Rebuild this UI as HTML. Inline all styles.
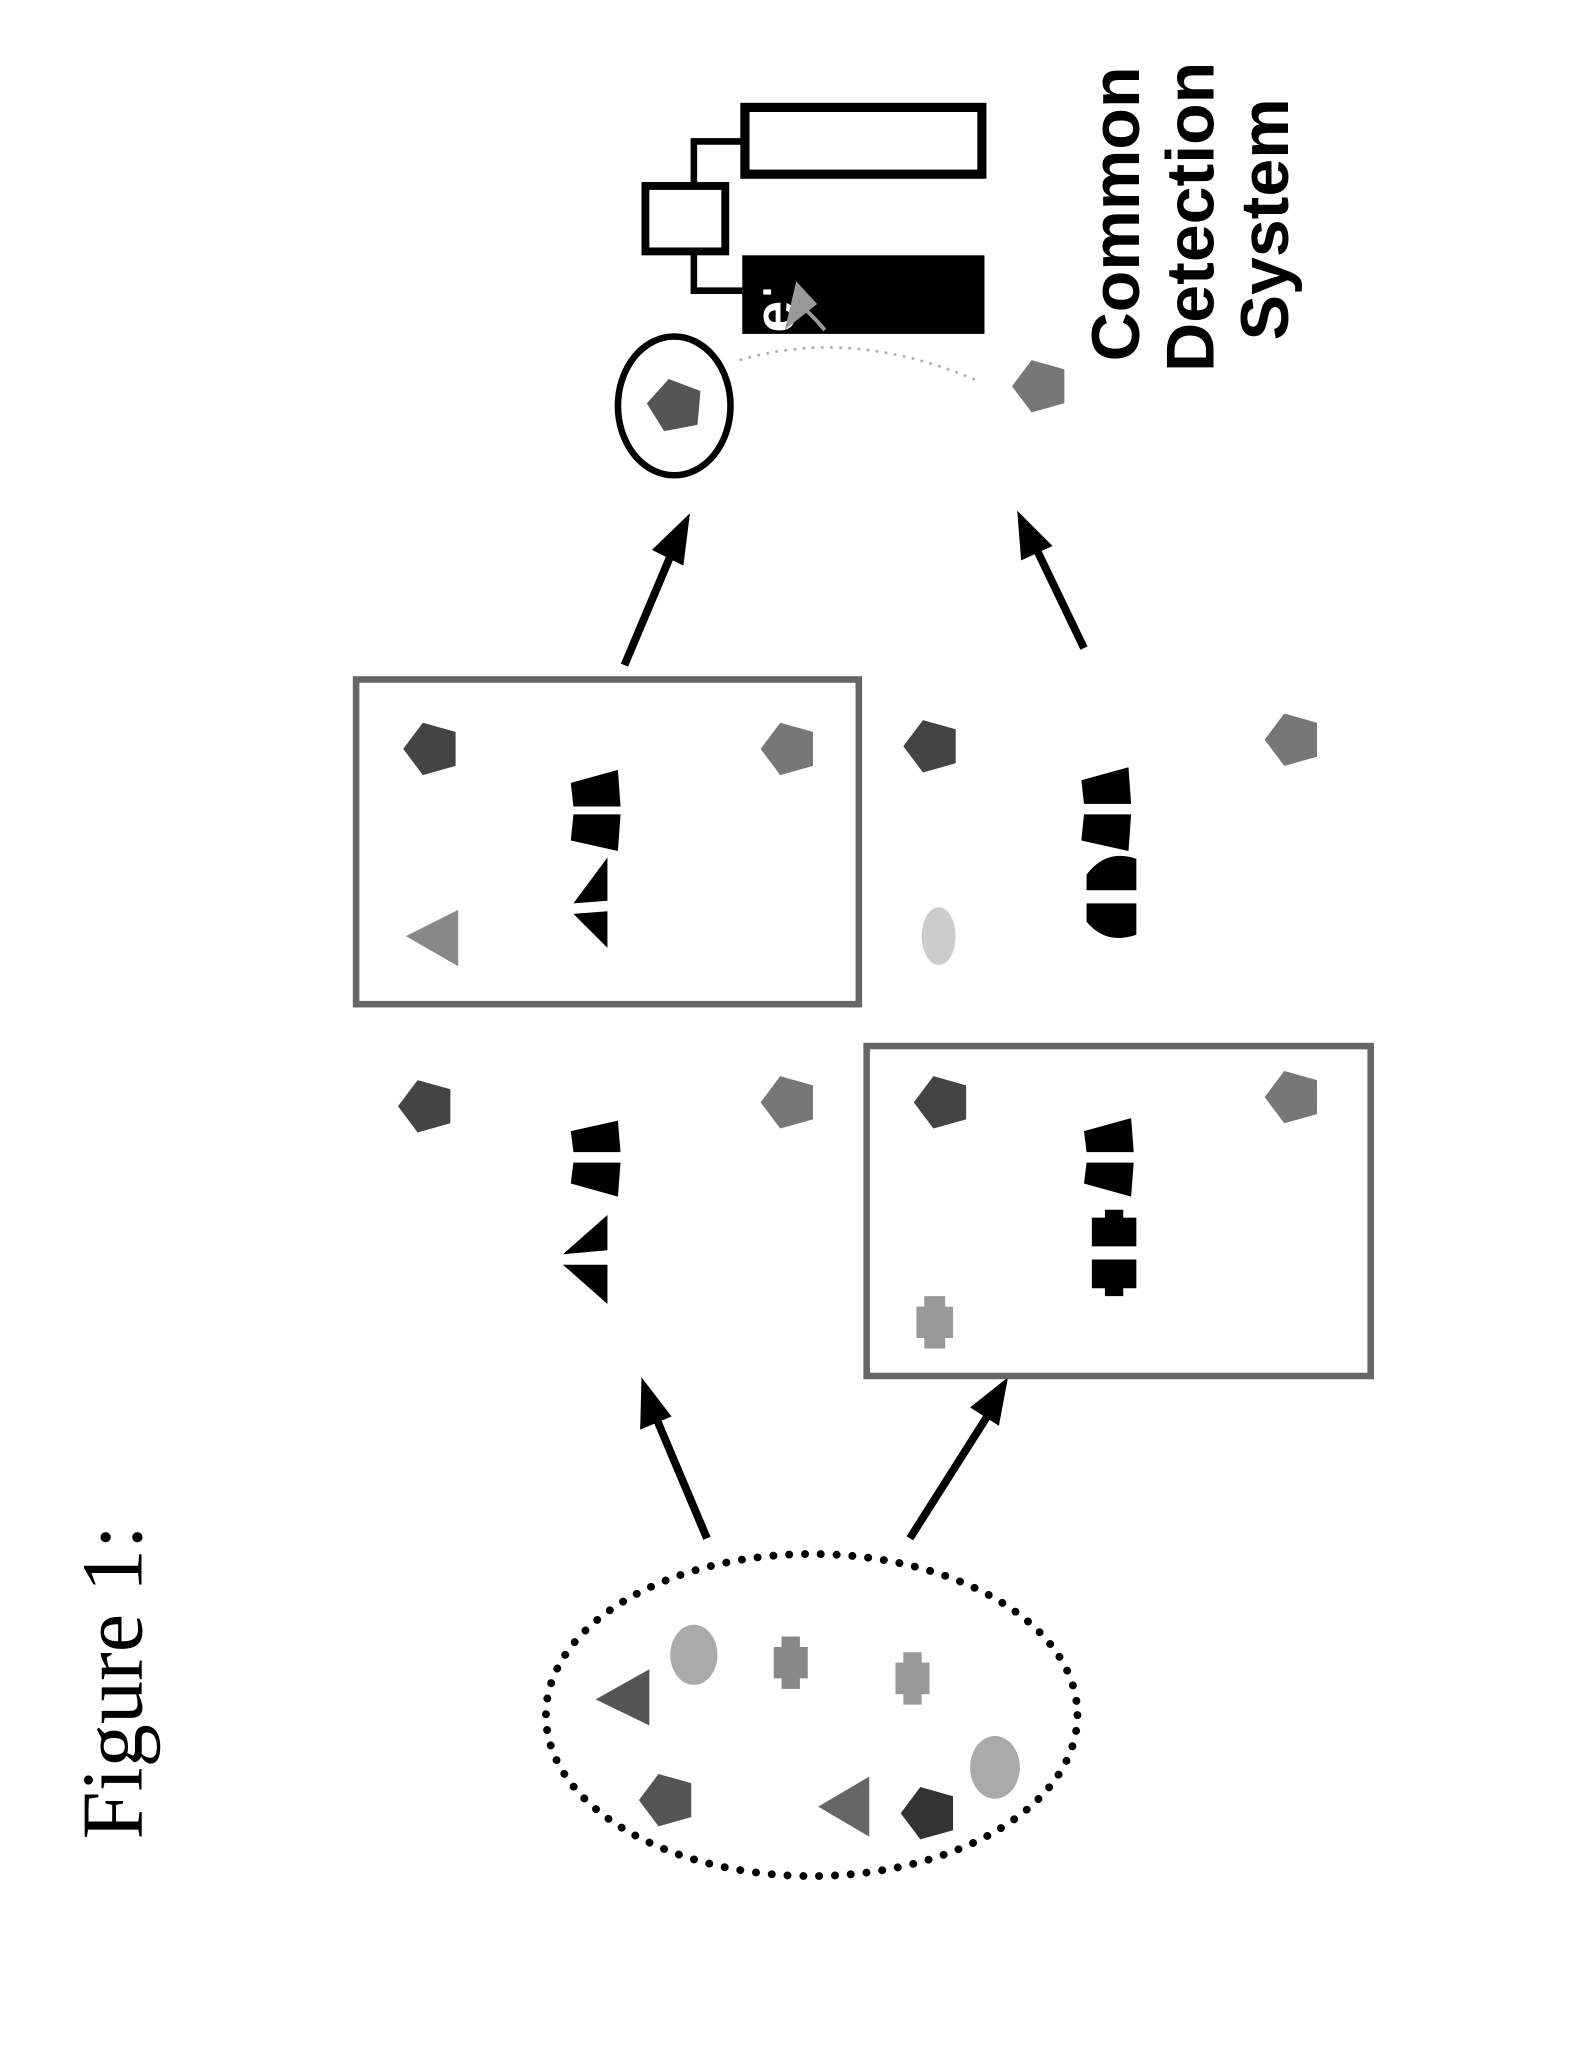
<!DOCTYPE html>
<html><head><style>html,body{margin:0;padding:0;background:#fff;width:1588px;height:2045px;overflow:hidden}</style></head>
<body>
<svg width="1588" height="2045" viewBox="0 0 1213 1562" xmlns="http://www.w3.org/2000/svg">
<defs>
<polygon id="pent" points="-22,0 -7,-20 18,-13 18,13 -7,20"/>
</defs>
<!-- Figure label -->
<text transform="translate(108,1405) rotate(-90)" font-family="Liberation Serif, serif" font-size="66">Figure 1:</text>
<!-- Common Detection System -->
<g font-family="Liberation Sans, sans-serif" font-weight="bold" font-size="52" transform="rotate(-90)">
<text x="-276" y="870">Common</text>
<text x="-284" y="927">Detection</text>
<text x="-260" y="984">System</text>
</g>
<!-- detector -->
<rect x="569" y="82" width="181" height="51" fill="none" stroke="#000" stroke-width="7"/>
<rect x="567" y="195" width="185" height="60" fill="#000"/>
<rect x="493" y="142" width="61" height="50" fill="none" stroke="#000" stroke-width="6"/>
<polyline points="567,108 530,108 530,142" fill="none" stroke="#000" stroke-width="5"/>
<polyline points="530,192 530,222 567,222" fill="none" stroke="#000" stroke-width="5"/>
<text transform="translate(607,254) rotate(-90)" font-family="Liberation Sans, sans-serif" font-weight="bold" font-size="44" fill="#fff">e</text>
<rect x="583" y="221" width="6" height="4" fill="#fff"/>
<path d="M602,248 L609,218 L622,232 Z M610,232 Q620,240 630,252" fill="#999" stroke="#999" stroke-width="3"/>
<path d="M565,275 Q650,250 745,290" fill="none" stroke="#aaa" stroke-width="2" stroke-dasharray="2,5"/>
<!-- circle with pentagon -->
<ellipse cx="515" cy="310" rx="43" ry="53" fill="none" stroke="#000" stroke-width="5"/>
<use href="#pent" transform="translate(516,310) rotate(5)" fill="#555"/>
<use href="#pent" transform="translate(795,295)" fill="#777"/>
<!-- arrows -->
<g stroke="#000" stroke-width="6" fill="#000">
<line x1="477" y1="508" x2="512" y2="425"/>
<polygon points="527,392 498,420 522,432" stroke="none"/>
<line x1="828" y1="495" x2="792" y2="420"/>
<polygon points="777,390 780,428 804,417" stroke="none"/>
<line x1="540" y1="1175" x2="502" y2="1085"/>
<polygon points="490,1052 489,1092 513,1082" stroke="none"/>
<line x1="695" y1="1175" x2="754" y2="1082"/>
<polygon points="770,1052 741,1075 763,1089" stroke="none"/>
</g>
<!-- boxes -->
<rect x="272" y="519" width="384" height="248" fill="none" stroke="#666" stroke-width="5"/>
<rect x="662" y="799" width="385" height="252" fill="none" stroke="#666" stroke-width="5"/>
<!-- top box contents -->
<use href="#pent" transform="translate(330,572)" fill="#444"/>
<use href="#pent" transform="translate(603,572)" fill="#777"/>
<polygon points="310,715 350,695 350,738" fill="#888"/>
<polygon points="436,598 472,588 474,616 438,616" fill="#000"/>
<polygon points="438,622 474,622 472,650 436,642" fill="#000"/>
<polygon points="438,690 464,655 464,688" fill="#000"/>
<polygon points="438,698 464,696 464,724" fill="#000"/>
<!-- middle right contents -->
<use href="#pent" transform="translate(712,570)" fill="#444"/>
<use href="#pent" transform="translate(988,565)" fill="#777"/>
<polygon points="826,596 862,586 864,614 828,614" fill="#000"/>
<polygon points="828,622 864,622 862,650 826,642" fill="#000"/>
<path d="M830,680 L830,668 Q845,648 868,656 L868,680 Z M830,690 L868,690 L868,714 Q845,722 830,704 Z" fill="#000"/>
<ellipse cx="717" cy="715" rx="13" ry="22" fill="#ccc"/>
<!-- left column contents -->
<use href="#pent" transform="translate(326,845)" fill="#444"/>
<use href="#pent" transform="translate(603,842)" fill="#777"/>
<polygon points="436,864 472,856 474,880 438,880" fill="#000"/>
<polygon points="438,888 474,888 472,914 436,904" fill="#000"/>
<polygon points="430,958 464,928 464,955" fill="#000"/>
<polygon points="430,966 464,966 464,996" fill="#000"/>
<!-- lower box contents -->
<use href="#pent" transform="translate(720,842)" fill="#444"/>
<use href="#pent" transform="translate(988,838)" fill="#777"/>
<path d="M706,990 h16 v8 h6 v24 h-6 v8 h-16 v-8 h-6 v-24 h6 z" fill="#999"/>
<polygon points="828,864 864,854 866,880 830,880" fill="#000"/>
<polygon points="830,888 866,888 864,914 828,904" fill="#000"/>
<path d="M834,930 h10 v-6 h14 v6 h10 v22 h-34 z M834,962 h34 v22 h-10 v6 h-14 v-6 h-10 z" fill="#000"/>
<!-- dotted ellipse -->
<ellipse cx="620" cy="1310" rx="203" ry="123" fill="none" stroke="#000" stroke-width="6" stroke-dasharray="0.1,12" stroke-linecap="round"/>
<polygon points="455,1298 496,1275 496,1318" fill="#555"/>
<ellipse cx="530" cy="1264" rx="18" ry="23" fill="#aaa"/>
<path d="M597,1250 h14 v8 h6 v24 h-6 v8 h-14 v-8 h-6 v-24 h6 z" fill="#888"/>
<path d="M690,1262 h14 v8 h6 v24 h-6 v8 h-14 v-8 h-6 v-24 h6 z" fill="#999"/>
<use href="#pent" transform="translate(510,1375)" fill="#555"/>
<polygon points="625,1380 664,1357 664,1403" fill="#666"/>
<use href="#pent" transform="translate(710,1385)" fill="#333"/>
<ellipse cx="760" cy="1350" rx="19" ry="24" fill="#aaa"/>
</svg>
</body></html>
